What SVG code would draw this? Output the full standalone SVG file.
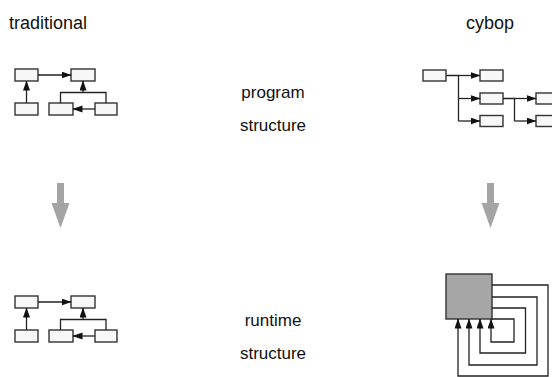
<svg xmlns="http://www.w3.org/2000/svg" width="552" height="377" viewBox="0 0 552 377">
  <style>
    .box { fill: #f7f7f7; stroke: #333; stroke-width: 1.4; }
    .core { fill: #a6a6a6; stroke: #333; stroke-width: 1.4; }
    .wire { fill: none; stroke: #222; stroke-width: 1.3; }
    .arr { fill: none; stroke: #222; stroke-width: 1.3; marker-end: url(#head); }
    .flow { fill: #a4a4a4; }
    .title { font-family: "Liberation Sans", Arial, sans-serif; font-size: 18px; fill: #111; }
    .label { font-family: "Liberation Sans", Arial, sans-serif; font-size: 17px; fill: #111; text-anchor: middle; }
  </style>
  <defs>
    <marker id="head" markerUnits="userSpaceOnUse" markerWidth="10" markerHeight="8" refX="9.5" refY="3.5" orient="auto">
      <path d="M0,0 L10,3.5 L0,7 z" fill="#111"/>
    </marker>
    <!-- one small hierarchy, reused for both program and runtime structure -->
    <g id="tradGraph">
      <rect class="box" x="15" y="69" width="23" height="12"/>
      <rect class="box" x="71" y="69" width="24" height="12"/>
      <rect class="box" x="15" y="103" width="23" height="12"/>
      <rect class="box" x="49" y="103" width="24" height="12"/>
      <rect class="box" x="95" y="103" width="22" height="12"/>
      <path class="arr" d="M38,75 H71"/>
      <path class="arr" d="M26.5,103 V81"/>
      <path class="arr" d="M95,109 H73"/>
      <path class="wire" d="M60.5,103 V92.5 H106 V103"/>
      <path class="arr" d="M83,92.5 V81"/>
    </g>
  </defs>

  <g id="captions">
    <text class="title" x="9" y="29">traditional</text>
    <text class="title" x="490" y="29" text-anchor="middle">cybop</text>
    <text class="label" x="273" y="98">program</text>
    <text class="label" x="273" y="131">structure</text>
    <text class="label" x="273" y="326">runtime</text>
    <text class="label" x="273" y="359">structure</text>
  </g>

  <g id="traditional-program">
    <use href="#tradGraph"/>
  </g>

  <g id="traditional-runtime">
    <use href="#tradGraph" transform="translate(0,227)"/>
  </g>

  <g id="cybop-program">
    <rect class="box" x="423" y="70" width="23" height="11"/>
    <rect class="box" x="480" y="70" width="23" height="11"/>
    <rect class="box" x="480" y="93" width="23" height="11"/>
    <rect class="box" x="480" y="115.5" width="23" height="11"/>
    <rect class="box" x="536" y="93" width="23" height="11"/>
    <rect class="box" x="536" y="115.5" width="23" height="11"/>
  </g>

  <g id="cybop-runtime">
    <rect class="core" x="446" y="274" width="46" height="45"/>
  </g>

  <g id="connectors">
    <!-- cybop program tree -->
    <path class="wire" d="M446,75.5 H458.5 V121"/>
    <path class="arr" d="M458.5,75.5 H480"/>
    <path class="arr" d="M458.5,98.5 H480"/>
    <path class="arr" d="M458.5,121 H480"/>
    <path class="wire" d="M503,98.5 H514.5 V121"/>
    <path class="arr" d="M514.5,98.5 H536"/>
    <path class="arr" d="M514.5,121 H536"/>
    <!-- cybop runtime self loops -->
    <path class="arr" d="M492,285 H548 V376 H458 V319"/>
    <path class="arr" d="M492,297 H537 V365 H469 V319"/>
    <path class="arr" d="M492,308 H525.5 V353 H480 V319"/>
    <path class="arr" d="M492,319 H514 V342 H491 V319"/>
    <!-- transitions from program to runtime -->
    <polygon class="flow" points="57,183 64,183 64,203 69.5,203 60.5,228 51.5,203 57,203"/>
    <polygon class="flow" points="487,183 494,183 494,203 499.5,203 490.5,228 481.5,203 487,203"/>
  </g>
</svg>
